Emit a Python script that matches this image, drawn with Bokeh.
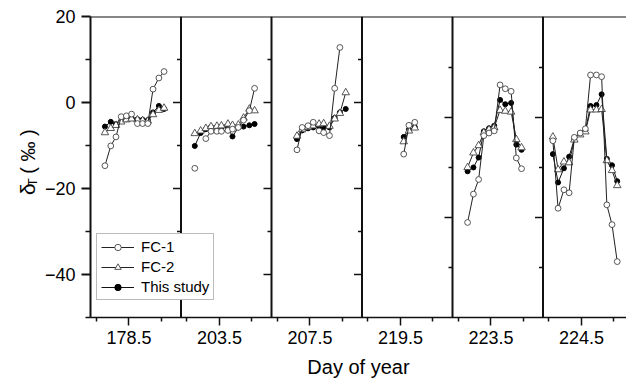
import math
from bokeh.plotting import figure
from bokeh.layouts import row
from bokeh.models import Range1d, FixedTicker, Span, Legend, LegendItem
from bokeh.core.properties import value
from bokeh.embed import file_html
from bokeh.resources import INLINE

nan = float("nan")

# ---- data ----
days = ["178.5", "203.5", "207.5", "219.5", "223.5", "224.5"]

doy = [
    [178.13, 178.22, 178.30, 178.38, 178.46, 178.54, 178.63, 178.71, 178.79, 178.87, 178.96, 179.04],
    [203.12, 203.21, 203.29, 203.37, 203.46, 203.53, 203.63, 203.70, 203.79, 203.87, 203.96, 204.04],
    [207.30, 207.38, 207.47, 207.55, 207.64, 207.71, 207.80, 207.88, 207.96, 208.05],
    [219.55, 219.63, 219.72],
    [223.14, 223.23, 223.31, 223.39, 223.47, 223.55, 223.64, 223.72, 223.81, 223.89, 223.97],
    [224.06, 224.14, 224.23, 224.31, 224.39, 224.48, 224.56, 224.64, 224.73, 224.81, 224.89, 224.97, 225.05],
]

fc1 = [
    [-14.7, -10.1, -8.0, -3.3, -3.1, -2.7, -4.9, -4.9, -4.9, 3.1, 5.7, 7.2],
    [-15.3, nan, -8.4, -6.7, -6.7, -6.7, -6.5, -6.2, -5.8, -4.1, -1.9, 3.3],
    [-11.0, -5.8, -5.4, -4.6, -6.6, -7.0, -7.7, 3.3, 12.8, nan],
    [-12.0, -5.3, -4.6],
    [-27.9, -21.3, -17.9, -7.7, -7.1, -6.6, 4.1, 3.2, 2.6, -12.9, -15.4],
    [-8.9, -24.6, -20.3, -21.0, -8.1, -7.1, -6.1, 6.4, 6.4, 6.0, -23.8, -28.4, -37.0],
]

fc2 = [
    [-7.0, -6.0, -5.3, -4.5, -4.0, -3.8, -4.0, -4.2, -4.3, -2.8, -1.8, -1.3],
    [-7.2, -6.6, -6.0, -5.6, -5.5, -5.4, -5.0, -5.3, -5.2, -3.6, -1.5, -1.9],
    [-7.8, -6.3, -5.8, -5.4, -5.0, -4.9, -5.5, -3.8, -2.5, 2.3],
    [-9.1, -6.6, -5.9],
    [-15.1, -11.7, -10.0, -7.0, -6.3, -5.8, -1.8, -2.0, -2.2, -8.6, -10.5],
    [-8.0, -15.6, -13.8, -14.0, -8.7, -7.5, -6.8, -1.7, -1.7, -1.6, -13.5, -15.8, -19.3],
]

this_study = [
    [-5.6, -4.5, -5.0, -4.3, -3.9, -3.6, -3.9, -4.0, -4.1, -2.3, -0.8, -1.5],
    [-10.1, -7.1, -6.2, -5.7, -5.7, -5.7, -5.8, -7.9, -5.8, -5.6, -5.3, -5.0],
    [-8.5, -6.5, -6.0, -5.8, -5.6, -5.8, -5.8, -3.6, -2.3, -1.5],
    [-8.0, -6.3, -5.7],
    [-16.0, -15.1, -12.8, -6.7, -6.0, -5.4, 0.6, -0.4, -0.1, -9.8, -11.0],
    [-12.0, -18.6, -15.3, -12.6, -8.5, -7.3, -6.5, -0.8, -0.6, 1.9, -13.1, -14.6, -18.3],
]

series_names = ["FC-1", "FC-2", "This study"]
y_major = [-40, -20, 0, 20]
y_minor = [-50, -30, -10, 10]
x_title = "Day of year"

# ---- layout constants ----
PX_PER_DAY = 65.0
PANEL_PX = 90.5
FRAME_W = 536
FRAME_H = 301
W = PANEL_PX / PX_PER_DAY
XW = FRAME_W / PX_PER_DAY
LEAD = 0.592
FONT = "Liberation Sans"
TITLE_W = 40
TOTAL_H = 381

p = figure(frame_width=FRAME_W, frame_height=FRAME_H,
           x_range=Range1d(0, XW), y_range=Range1d(-50, 20),
           output_backend="svg", toolbar_location=None,
           min_border_left=90 - TITLE_W, min_border_right=0,
           min_border_top=16, min_border_bottom=TOTAL_H - 16 - FRAME_H)
p.outline_line_color = None
p.xgrid.visible = False
p.ygrid.visible = False
p.background_fill_color = "white"
p.border_fill_color = "white"

p.extra_y_ranges = {"alt": Range1d(-50, -50 + FRAME_H / 5.0)}
xr = {}
for k, d in enumerate(days):
    start = float(d) - LEAD - k * W
    xr[f"p{k}"] = Range1d(start, start + XW)
p.extra_x_ranges = xr

# ---- separators, top line ----
for k in range(1, 6):
    p.add_layout(Span(location=k * W, dimension="height", line_width=2, line_color="#111111"))
p.add_layout(Span(location=20, dimension="width", line_width=2, line_color="#111111"))

# inward ticks on the right side of panels
for k in range(1, 6):
    sep = k * W
    if k <= 3:
        majors, minors, rn = [0, -20, -40], [10, -10, -30], "default"
    else:
        majors, minors, rn = [-10, -30], [0, -20, -40], "alt"
    p.ray(x=[sep] * len(majors), y=majors, length=8, angle=math.pi, length_units="screen",
          line_color="#111111", line_width=1.5, y_range_name=rn)
    p.ray(x=[sep] * len(minors), y=minors, length=4, angle=math.pi, length_units="screen",
          line_color="#111111", line_width=1.5, y_range_name=rn)

# ---- data ----
first = {}
for k in range(6):
    rn = f"p{k}"
    xs = doy[k]
    r_l = p.line(xs, this_study[k], line_color="#111111", line_width=1, x_range_name=rn)
    r_s = p.scatter(xs, this_study[k], marker="circle", size=5, fill_color="black",
                    line_color="black", x_range_name=rn)
    if k == 0:
        first["This study"] = [r_l, r_s]
    r_l = p.line(xs, fc2[k], line_color="#222222", line_width=1, x_range_name=rn)
    r_s = p.scatter(xs, fc2[k], marker="triangle", size=7.5, fill_color="white",
                    line_color="#444444", line_width=0.9, x_range_name=rn)
    if k == 0:
        first["FC-2"] = [r_l, r_s]
    r_l = p.line(xs, fc1[k], line_color="#222222", line_width=1, x_range_name=rn)
    r_s = p.scatter(xs, fc1[k], marker="circle", size=5.8, fill_color="white",
                    line_color="#444444", line_width=0.9, x_range_name=rn)
    if k == 0:
        first["FC-1"] = [r_l, r_s]

# ---- axes ----
centers = [k * W + LEAD for k in range(6)]
p.xaxis.ticker = FixedTicker(ticks=centers,
                             minor_ticks=[c + o for c in centers for o in (-0.5, 0.5)])
p.xaxis.major_label_overrides = {c: d for c, d in zip(centers, days)}
p.xaxis.axis_line_width = 1.5
p.xaxis.major_tick_line_width = 1.5
p.xaxis.minor_tick_line_width = 1.5
p.xaxis.major_tick_in = 0
p.xaxis.major_tick_out = 8
p.xaxis.minor_tick_in = 0
p.xaxis.minor_tick_out = 4
p.xaxis.major_label_standoff = 5
p.xaxis.major_label_text_font = FONT
p.xaxis.major_label_text_font_size = "18px"
p.xaxis.major_label_text_color = "black"
p.xaxis.axis_label = x_title
p.xaxis.axis_label_text_font = FONT
p.xaxis.axis_label_text_font_size = "20px"
p.xaxis.axis_label_text_font_style = "normal"
p.xaxis.axis_label_text_color = "black"
p.xaxis.axis_label_standoff = 9

p.yaxis.ticker = FixedTicker(ticks=y_major, minor_ticks=y_minor)
p.yaxis.axis_line_width = 2
p.yaxis.major_tick_line_width = 2
p.yaxis.minor_tick_line_width = 1.5
p.yaxis.major_tick_in = 0
p.yaxis.major_tick_out = 9
p.yaxis.minor_tick_in = 0
p.yaxis.minor_tick_out = 5
p.yaxis.major_label_standoff = 6
p.yaxis.major_label_text_font = FONT
p.yaxis.major_label_text_font_size = "18px"
p.yaxis.major_label_text_color = "black"
for ax in (p.xaxis[0], p.yaxis[0]):
    ax.axis_line_color = "#111111"
    ax.major_tick_line_color = "#111111"
    ax.minor_tick_line_color = "#111111"

# ---- legend ----
legend = Legend(items=[LegendItem(label=n, renderers=first[n]) for n in series_names],
                location=(6, 17), orientation="vertical",
                label_text_font=FONT, label_text_font_size="15px", label_text_color="black",
                glyph_width=33, glyph_height=16, label_height=16, spacing=3, padding=4,
                label_standoff=7, margin=0,
                border_line_color="#777777", border_line_width=1,
                background_fill_color="white", background_fill_alpha=1.0)
p.add_layout(legend)

# ---- y title (delta with subscript T) in a narrow strip on the left ----
t = figure(width=TITLE_W, height=TOTAL_H, x_range=Range1d(0, TITLE_W),
           y_range=Range1d(0, TOTAL_H), output_backend="svg", toolbar_location=None,
           x_axis_type=None, y_axis_type=None, min_border=0)
t.outline_line_color = None
t.xgrid.visible = False
t.ygrid.visible = False
common = dict(angle=math.pi / 2, text_align="left", text_baseline="alphabetic",
              text_font=value(FONT), text_color="black")
t.text(x=[27], y=[TOTAL_H - 226], text=["δ"], text_font_size="21px", **common)
t.text(x=[31.5], y=[TOTAL_H - 215], text=["T"], text_font_size="13px", **common)
t.text(x=[27], y=[TOTAL_H - 199], text=["( ‰ )"], text_font_size="20px", **common)

layout = row(t, p)
open("out.html", "w").write(file_html(layout, INLINE))
